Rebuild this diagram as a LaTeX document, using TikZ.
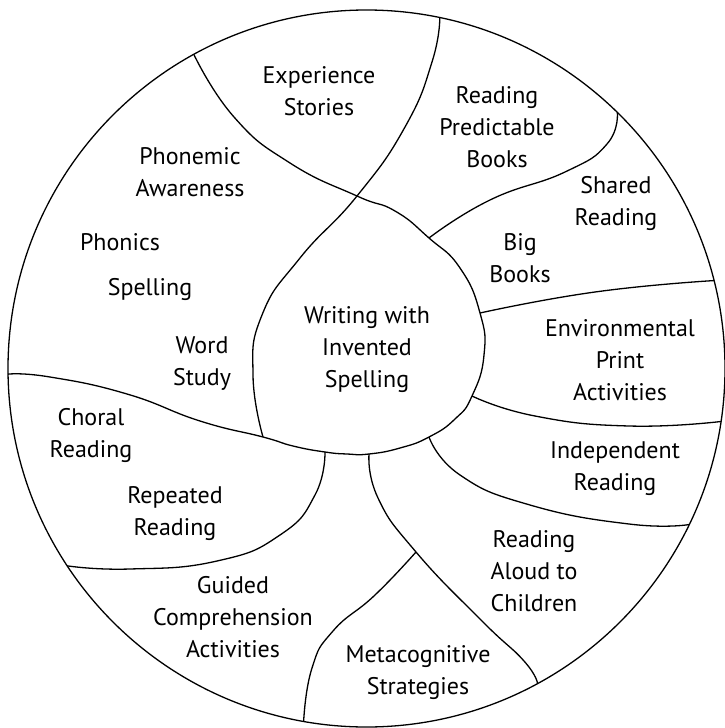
\documentclass[tikz,border=0pt]{standalone}
\usepackage{fontspec}
\setmainfont{PT Sans}

\begin{document}
\begin{tikzpicture}[x=1pt, y=-1pt, line width=1.3pt,
  curvy/.style={smooth, tension=0.85},
  areaText/.style={font=\fontsize{24}{32}\selectfont, align=center, anchor=base, inner sep=0pt}]
\useasboundingbox (0,0) rectangle (725,728);

\coordinate (centre) at (366.5,368.5);
\draw (centre) circle[radius=358.5pt];

% points on the rim
\path (centre) ++(118.8:358.5pt) coordinate (rimPhonemicStories);
\path (centre) ++(78.2:358.5pt) coordinate (rimStoriesPredictable);
\path (centre) ++(45.6:358.5pt) coordinate (rimPredictableShared);
\path (centre) ++(14.2:358.5pt) coordinate (rimSharedEnvironmental);
\path (centre) ++(-8.5:358.5pt) coordinate (rimEnvironmentalIndependent);
\path (centre) ++(-25.8:358.5pt) coordinate (rimIndependentAloud);
\path (centre) ++(-61.5:358.5pt) coordinate (rimAloudMeta);
\path (centre) ++(259.9:358.5pt) coordinate (rimMetaGuided);
\path (centre) ++(213.4:358.5pt) coordinate (rimRepeatedGuided);
\path (centre) ++(180.9:358.5pt) coordinate (rimWordChoral);

% points on the middle area
\coordinate (blobTop) at (357,196);
\coordinate (blobShared) at (429,238);
\coordinate (blobEnvironmental) at (480,313);
\coordinate (blobIndependent) at (472,396);
\coordinate (blobAloud) at (429,437);
\coordinate (blobMeta) at (369,454);
\coordinate (blobRepeated) at (325,452);
\coordinate (blobWord) at (263,437);
\coordinate (metaFork) at (416,552);

\draw plot[curvy] coordinates {(rimPhonemicStories) (234,117) (290,163) (blobTop) (395,211) (blobShared) (460,268) (blobEnvironmental) (484,355) (blobIndependent) (455,419) (blobAloud) (400,448) (blobMeta) (347,454) (blobRepeated) (293,446) (blobWord) (200,421) (127,394) (50,377) (rimWordChoral)};
\draw plot[curvy] coordinates {(rimStoriesPredictable) (432,62) (405,127) (blobTop) (300,258) (262,315) (253,375) (blobWord)};
\draw plot[curvy] coordinates {(rimPredictableShared) (607,144) (565,172) (490,200) (blobShared)};
\draw plot[curvy] coordinates {(blobEnvironmental) (595,292) (rimSharedEnvironmental)};
\draw plot[curvy] coordinates {(blobIndependent) (535,416) (629,426) (rimEnvironmentalIndependent)};
\draw plot[curvy] coordinates {(blobAloud) (460,475) (530,505) (629,524) (rimIndependentAloud)};
\draw plot[curvy] coordinates {(blobMeta) (378,498) (metaFork) (482,621) (524,661) (rimAloudMeta)};
\draw plot[curvy] coordinates {(metaFork) (375,595) (333,631) (312,668) (rimMetaGuided)};
\draw plot[curvy] coordinates {(blobRepeated) (315,495) (280,535) (217,561) (130,569) (rimRepeatedGuided)};

\node[areaText] (experienceStories) at (319,115) {Experience\\Stories};
\node[areaText] (phonemicAwareness) at (190,196) {Phonemic\\Awareness};
\node[areaText] (phonics) at (120,250) {Phonics};
\node[areaText] (spelling) at (150,295) {Spelling};
\node[areaText] (wordStudy) at (202,385) {Word\\Study};
\node[areaText] (inventedSpelling) at (367,387) {Writing with\\Invented\\Spelling};
\node[areaText] (predictableBooks) at (497,167) {Reading\\Predictable\\Books};
\node[areaText] (sharedReading) at (616,225) {Shared\\Reading};
\node[areaText] (bigBooks) at (520,282) {Big\\Books};
\node[areaText] (environmentalPrint) at (620,400) {Environmental\\Print\\Activities};
\node[areaText] (independentReading) at (615,490) {Independent\\Reading};
\node[areaText] (choralReading) at (91,457) {Choral\\Reading};
\node[areaText] (repeatedReading) at (175,535) {Repeated\\Reading};
\node[areaText] (guidedComprehension) at (233,657) {Guided\\Comprehension\\Activities};
\node[areaText] (readingAloud) at (534,611) {Reading\\Aloud to\\Children};
\node[areaText] (metacognitiveStrategies) at (418,694) {Metacognitive\\Strategies};

\end{tikzpicture}
\end{document}
